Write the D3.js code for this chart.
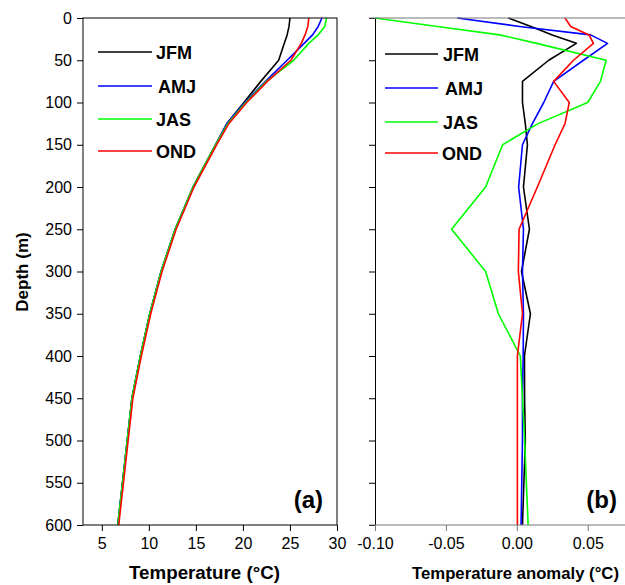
<!DOCTYPE html>
<html>
<head>
<meta charset="utf-8">
<script src="https://cdn.jsdelivr.net/npm/d3@7"></script>
<style>
  body { margin: 0; background: #fff; }
  svg { display: block; font-family: "Liberation Sans", Arial, Helvetica, sans-serif; }
</style>
</head>
<body>
<div id="vis"></div>
<script>
// depth levels (m) shared by all profiles
var depths = [0, 10, 20, 30, 50, 75, 100, 125, 150, 200, 250, 300, 350, 400, 450, 500, 600];

// seasons
var seasons = ["JFM", "AMJ", "JAS", "OND"];
var seasonColors = ["#000000", "#0000ff", "#00ff00", "#ff0000"];

// (a) mean temperature (°C)
var tempJFM = [25.0, 24.9, 24.7, 24.4, 23.8, 21.9, 20.1, 18.3, 17.1, 14.7, 12.8, 11.3, 10.1, 9.1, 8.2, 7.7, 6.7];
var tempAMJ = [28.4, 28.0, 27.4, 26.5, 24.7, 22.4, 20.2, 18.3, 17.1, 14.7, 12.8, 11.3, 10.1, 9.1, 8.2, 7.7, 6.7];
var tempJAS = [28.9, 28.7, 28.0, 27.0, 25.4, 22.5, 20.3, 18.4, 17.1, 14.7, 12.8, 11.3, 10.1, 9.1, 8.2, 7.7, 6.7];
var tempOND = [27.0, 26.9, 26.6, 26.2, 25.1, 22.6, 20.4, 18.5, 17.2, 14.8, 12.9, 11.4, 10.2, 9.2, 8.3, 7.8, 6.8];

// (b) temperature anomaly (°C)
var anomJFM = [-0.006, 0.010, 0.025, 0.042, 0.0225, 0.004, 0.004, 0.006, 0.0075, 0.0047, 0.0089, 0.0033, 0.0096, 0.0054, 0.0055, 0.006, 0.004];
var anomAMJ = [-0.042, 0.002, 0.052, 0.064, 0.047, 0.026, 0.019, 0.011, 0.004, 0.0013, 0.0047, 0.004, 0.0047, 0.0045, 0.004, 0.004, 0.003];
var anomJAS = [-0.100, -0.056, -0.012, 0.014, 0.063, 0.059, 0.050, 0.015, -0.010, -0.022, -0.046, -0.022, -0.013, 0.0025, 0.004, 0.0055, 0.008];
var anomOND = [0.034, 0.038, 0.051, 0.054, 0.040, 0.026, 0.037, 0.034, 0.027, 0.0145, 0.0016, 0.0011, 0.004, 0.0004, 0.0004, 0.0004, 0.0004];

// tick values
var depthTicks = [0, 50, 100, 150, 200, 250, 300, 350, 400, 450, 500, 550, 600];
var tempTicks = [5, 10, 15, 20, 25, 30];
var anomTicks = [-0.10, -0.05, 0.00, 0.05];

var width = 625, height = 585;

var svg = d3.select("#vis").append("svg")
  .attr("width", width)
  .attr("height", height);

// shared depth scale
var y = d3.scaleLinear().domain([0, 600]).range([18, 525]);

var xA = d3.scaleLinear().domain([3, 30]).range([83, 337]);
// panel (b) runs on past the right edge of the picture
var xB = d3.scaleLinear().domain([-0.1, 0.1]).range([375, 658.6]);

var tempSeries = [tempJFM, tempAMJ, tempJAS, tempOND];
var anomSeries = [anomJFM, anomAMJ, anomJAS, anomOND];

/**
 * drawProfiles - one line per season
 */
var drawProfiles = function (g, x, series) {
  var line = d3.line()
    .x(function (d) { return x(d[1]); })
    .y(function (d) { return y(d[0]); });

  series.forEach(function (vals, i) {
    var pts = depths.map(function (d, j) { return [d, vals[j]]; });
    g.append("path")
      .datum(pts)
      .attr("fill", "none")
      .attr("stroke", seasonColors[i])
      .attr("stroke-width", 1.6)
      .attr("stroke-linejoin", "round")
      .attr("d", line);
  });
};

var drawLegend = function (g, x0, x1, tx, ys) {
  seasons.forEach(function (s, i) {
    g.append("line")
      .attr("x1", x0).attr("x2", x1)
      .attr("y1", ys[i]).attr("y2", ys[i])
      .attr("stroke", seasonColors[i])
      .attr("stroke-width", 1.6);
    g.append("text")
      .attr("x", tx[i])
      .attr("y", ys[i] + 6.5)
      .attr("font-size", 18)
      .attr("font-weight", "bold")
      .text(s);
  });
};

// ---- panel (a) ----
var gA = svg.append("g");

drawProfiles(gA, xA, tempSeries);

gA.append("rect")
  .attr("x", 83).attr("y", 18)
  .attr("width", 254).attr("height", 507)
  .attr("fill", "none")
  .attr("stroke", "#000")
  .attr("stroke-width", 1);

var axA_y = gA.append("g")
  .attr("transform", "translate(83,0)")
  .call(d3.axisLeft(y).tickValues(depthTicks).tickSize(6).tickPadding(5).tickSizeOuter(0));
var axA_x = gA.append("g")
  .attr("transform", "translate(0,525)")
  .call(d3.axisBottom(xA).tickValues(tempTicks).tickSize(6).tickPadding(7).tickSizeOuter(0));

[axA_y, axA_x].forEach(function (ax) {
  ax.select(".domain").remove();
  ax.selectAll("text").attr("font-size", 16).attr("font-family", null).attr("fill", "#000");
  ax.selectAll("line").attr("stroke", "#000");
});

drawLegend(gA, 98, 152, [156, 158, 156, 156], [52, 86, 119, 151]);

gA.append("text")
  .attr("x", 323).attr("y", 508)
  .attr("text-anchor", "end")
  .attr("font-size", 24)
  .attr("font-weight", "bold")
  .text("(a)");

// ---- panel (b) ----
var gB = svg.append("g");

drawProfiles(gB, xB, anomSeries);

var axB_y = gB.append("g")
  .attr("transform", "translate(375,0)")
  .call(d3.axisLeft(y).tickValues(depthTicks).tickSize(6).tickFormat("").tickSizeOuter(0));
axB_y.select(".domain").attr("stroke", "#000");
axB_y.selectAll("line").attr("stroke", "#000");

var axB_x = gB.append("g")
  .attr("transform", "translate(0,525)")
  .call(d3.axisBottom(xB).tickValues(anomTicks).tickSize(6).tickPadding(7).tickSizeOuter(0)
    .tickFormat(function (d) { return d.toFixed(2); }));
axB_x.select(".domain").remove();
axB_x.selectAll("line").attr("stroke", "#777");
axB_x.selectAll("text").attr("font-size", 16).attr("font-family", null).attr("fill", "#000");

// grey frame lines top and bottom
gB.append("line")
  .attr("x1", 369).attr("x2", width)
  .attr("y1", 18).attr("y2", 18)
  .attr("stroke", "#777").attr("stroke-width", 1.2);
gB.append("line")
  .attr("x1", 369).attr("x2", width)
  .attr("y1", 525).attr("y2", 525)
  .attr("stroke", "#777").attr("stroke-width", 1.2);

drawLegend(gB, 385, 438, [443, 445, 443, 442], [54, 88, 122, 153]);

gB.append("text")
  .attr("x", 617).attr("y", 508)
  .attr("text-anchor", "end")
  .attr("font-size", 24)
  .attr("font-weight", "bold")
  .text("(b)");

// ---- axis titles ----
svg.append("text")
  .attr("transform", "translate(28,272) rotate(-90)")
  .attr("text-anchor", "middle")
  .attr("font-size", 17)
  .attr("font-weight", "bold")
  .text("Depth (m)");

svg.append("text")
  .attr("x", 129).attr("y", 579)
  .attr("font-size", 18)
  .attr("font-weight", "bold")
  .attr("textLength", 151)
  .attr("lengthAdjust", "spacingAndGlyphs")
  .text("Temperature (°C)");

svg.append("text")
  .attr("x", 412).attr("y", 579)
  .attr("font-size", 17)
  .attr("font-weight", "bold")
  .attr("textLength", 207)
  .attr("lengthAdjust", "spacingAndGlyphs")
  .text("Temperature anomaly (°C)");
</script>
</body>
</html>
